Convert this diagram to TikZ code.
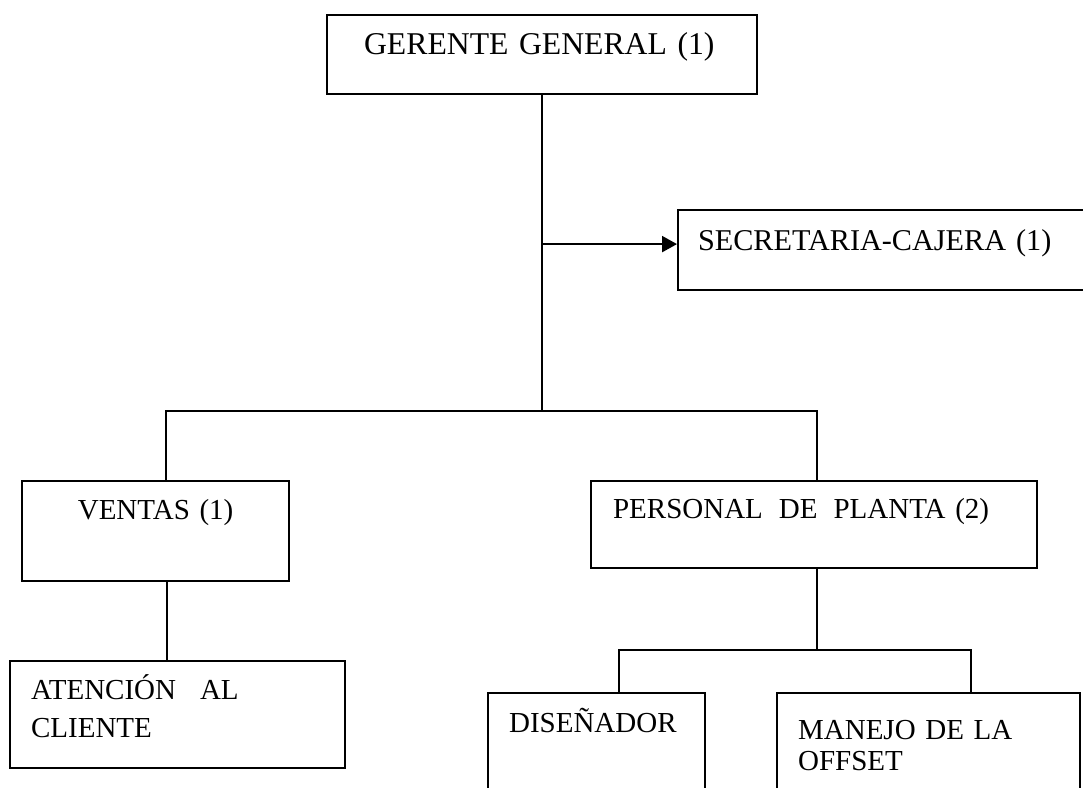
\documentclass[tikz,border=0pt]{standalone}
\usepackage{fontspec}
\setmainfont{Liberation Serif}
\usetikzlibrary{arrows.meta}

\begin{document}
\begin{tikzpicture}[
  x=1pt, y=-1pt,
  line width=2.2pt,
  org box/.style={draw, rectangle, anchor=north west, inner ysep=0pt,
    align=left, font=\fontsize{29pt}{38pt}\selectfont},
  big text/.style={font=\fontsize{#1}{38pt}\selectfont},
  to box/.style={-{Triangle[length=15pt, width=16pt]}},
]
  % page frame, the boxes that run past it are cut off
  \useasboundingbox (0,0) rectangle (1083,787);
  \clip (0,0) rectangle (1083,787);

  % boxes, placed by their top left corner
  \node[org box, big text=31.7pt, inner xsep=37pt, text width=356pt, text height=39pt, text depth=40pt]
    (gerente) at (326,14) {GERENTE GENERAL (1)};
  \node[org box, big text=30.2pt, inner xsep=20pt, text width=400pt, text height=40pt, text depth=40pt]
    (secretaria) at (677,209) {SECRETARIA-CAJERA (1)};
  \node[org box, align=center, inner xsep=10pt, text width=247pt, text height=38pt, text depth=62pt]
    (ventas) at (21,480) {VENTAS (1)};
  \node[org box, inner xsep=22pt, text width=402pt, text height=37pt, text depth=50pt]
    (personal) at (590,480) {PERSONAL\hspace{16pt}DE\hspace{16pt}PLANTA (2)};
  \node[org box, inner xsep=21pt, text width=293pt, text height=38pt, text depth=69pt]
    (atencion) at (9,660) {ATENCIÓN\hspace{24pt}AL\\CLIENTE};
  \node[org box, inner xsep=21pt, text width=175pt, text height=39pt, text depth=120pt]
    (disenador) at (487,692) {DISEÑADOR};
  \node[org box, inner xsep=21pt, text width=261pt, text height=46pt, text depth=120pt]
    (manejo) at (776,692) {MANEJO DE LA\\[-7pt]OFFSET};

  % main line and its branches
  \draw (gerente.south) -- ++(0,316) coordinate (bus);
  \coordinate (sec in) at ([yshift=6pt]secretaria.west);
  \draw[to box] (gerente.south |- sec in) -- (sec in);
  \draw ([xshift=10.5pt]ventas.north) |- (bus) -| ([xshift=3pt]personal.north);

  % lower levels
  \draw ([xshift=11.5pt]ventas.south) -- ([xshift=11.5pt]ventas.south |- atencion.north);
  \draw ([xshift=3pt]personal.south) -- ++(0,81) coordinate (planta);
  \draw ([xshift=22.5pt]disenador.north) |- (planta) -| ([xshift=42.5pt]manejo.north);
\end{tikzpicture}
\end{document}
